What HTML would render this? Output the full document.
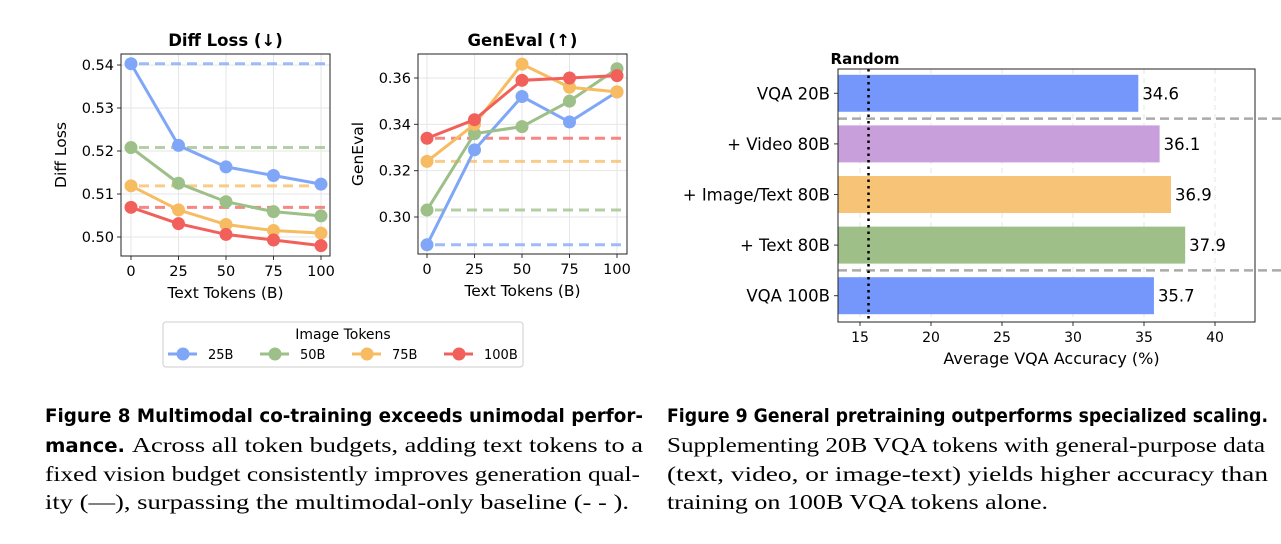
<!DOCTYPE html>
<html><head><meta charset="utf-8"><style>
body{margin:0;background:#fff;width:1281px;height:539px;overflow:hidden}
svg text{font-family:"DejaVu Sans","Liberation Sans",sans-serif}
svg text.ser{font-family:"Liberation Serif",serif}
</style></head><body>
<svg id="fig" width="1281" height="539" viewBox="0 0 1281 539" xmlns="http://www.w3.org/2000/svg">
<g id="p1"></g>
<g id="p2"></g>
<g id="p3"></g>
<g id="leg">
<rect x="163" y="322" width="360" height="45" rx="3" fill="#fff" stroke="#ccc"/>
<text x="343" y="339" font-size="14" text-anchor="middle">Image Tokens</text>
</g>
<g>
<text x="45" y="422" font-size="19" font-weight="bold" textLength="598" lengthAdjust="spacingAndGlyphs">Figure 8   Multimodal co-training exceeds unimodal perfor-</text>
<text x="45" y="452" font-size="19" font-weight="bold" textLength="80" lengthAdjust="spacingAndGlyphs">mance.</text>
<text x="132" y="452" font-size="21" class="ser" textLength="511" lengthAdjust="spacingAndGlyphs">Across all token budgets, adding text tokens to a</text>
<text x="45" y="481" font-size="21" class="ser" textLength="595" lengthAdjust="spacingAndGlyphs">fixed vision budget consistently improves generation qual-</text>
<text x="45" y="509" font-size="21" class="ser" textLength="584" lengthAdjust="spacingAndGlyphs">ity (—), surpassing the multimodal-only baseline (- - ).</text>
</g>
<g>
<text x="667" y="422" font-size="19" font-weight="bold" textLength="601" lengthAdjust="spacingAndGlyphs">Figure 9  General pretraining outperforms specialized scaling.</text>
<text x="667" y="452" font-size="21" class="ser" textLength="598" lengthAdjust="spacingAndGlyphs">Supplementing 20B VQA tokens with general-purpose data</text>
<text x="667" y="481" font-size="21" class="ser" textLength="601" lengthAdjust="spacingAndGlyphs">(text, video, or image-text) yields higher accuracy than</text>
<text x="667" y="509" font-size="21" class="ser" textLength="381" lengthAdjust="spacingAndGlyphs">training on 100B VQA tokens alone.</text>
</g>
</svg>
<script>
const xCats = [0, 25, 50, 75, 100];
const seriesNames = ["25B", "50B", "75B", "100B"];
const lossBlue = [0.5403, 0.5213, 0.5163, 0.5143, 0.5123];
const lossGreen = [0.5208, 0.5125, 0.5082, 0.5059, 0.5049];
const lossOrange = [0.5119, 0.5063, 0.5029, 0.5015, 0.5009];
const lossRed = [0.5069, 0.5031, 0.5006, 0.4993, 0.4980];
const lossTicks = [0.50, 0.51, 0.52, 0.53, 0.54];
const genBlue = [0.288, 0.329, 0.352, 0.341, 0.354];
const genGreen = [0.303, 0.336, 0.339, 0.350, 0.364];
const genOrange = [0.324, 0.340, 0.366, 0.356, 0.354];
const genRed = [0.334, 0.342, 0.359, 0.360, 0.361];
const genTicks = [0.30, 0.32, 0.34, 0.36];
const barLabels = ["VQA 20B", "+ Video 80B", "+ Image/Text 80B", "+ Text 80B", "VQA 100B"];
const barValues = [34.6, 36.1, 36.9, 37.9, 35.7];
const barTicks = [15, 20, 25, 30, 35, 40];
const randomBaseline = 15.6;

const NS = "http://www.w3.org/2000/svg";
const colors = ["#7fa6f7", "#9dbf88", "#f7bb62", "#f2605c"];
const barColors = ["#7597fb", "#c89fdb", "#f7c377", "#9fbf89", "#7597fb"];
function mk(parent, tag, attrs, txt){
  const e = document.createElementNS(NS, tag);
  for (const k in attrs) e.setAttribute(k, attrs[k]);
  if (txt !== undefined) e.textContent = txt;
  parent.appendChild(e); return e;
}

function linePlot(gid, box, xr, yr, ticks, dec, series, title, ylab){
  const g = document.getElementById(gid);
  const sx = v => box.x0p + (v - xr[0]) / (xr[1] - xr[0]) * (box.x1p - box.x0p);
  const sy = v => box.y0p + (v - yr[0]) / (yr[1] - yr[0]) * (box.y1p - box.y0p);
  xCats.forEach(c => {
    const l = mk(g, "line", {x1: sx(c), x2: sx(c), y1: box.t, y2: box.b, stroke: "#e6e6e6"});
    
    
    const tk = mk(g, "line", {x1: sx(c), x2: sx(c), y1: box.b, y2: box.b + 4, stroke: "#333"});
    
    
    const t = mk(g, "text", {x: sx(c), y: box.b + 20, "font-size": 14.5, "text-anchor": "middle"}, c);
    
    
  });
  ticks.forEach(v => {
    const l = mk(g, "line", {x1: box.l, x2: box.r, y1: sy(v), y2: sy(v), stroke: "#e6e6e6"});
    
    
    const tk = mk(g, "line", {x1: box.l - 4, x2: box.l, y1: sy(v), y2: sy(v), stroke: "#333"});
    
    
    const t = mk(g, "text", {x: box.l - 7, y: sy(v) + 5, "font-size": 14.5, "text-anchor": "end"}, v.toFixed(dec));
    
    
  });
  series.forEach((s, i) => {
    const d = mk(g, "line", {x1: sx(xCats[0]) + 8, x2: box.r, y1: sy(s[0]), y2: sy(s[0]), stroke: colors[i], "stroke-width": 3, "stroke-dasharray": "10,6", opacity: 0.75});
    
    
  });
  series.forEach((s, i) => {
    const p = mk(g, "polyline", {points: s.map((v, j) => sx(xCats[j]) + "," + sy(v)).join(" "), fill: "none", stroke: colors[i], "stroke-width": 3});
    
    
    s.forEach((v, j) => {
      const c = mk(g, "circle", {cx: sx(xCats[j]), cy: sy(v), r: 6.5, fill: colors[i]});
      
      
    });
  });
  const fr = mk(g, "rect", {x: box.l, y: box.t, width: box.r - box.l, height: box.b - box.t, fill: "none", stroke: "#222", "stroke-width": 1});
  
  
  const tt = mk(g, "text", {x: (box.l + box.r) / 2, y: box.t - 8, "font-size": 16.5, "font-weight": "bold", "text-anchor": "middle"}, title);
  
  
  const xl = mk(g, "text", {x: (box.l + box.r) / 2, y: box.b + 42, "font-size": 15.5, "text-anchor": "middle"}, "Text Tokens (B)");
  
  
  const cx = box.l - 55, cy = (box.t + box.b) / 2;
  const yl = mk(g, "text", {x: cx, y: cy, "font-size": 15.5, "text-anchor": "middle", transform: "rotate(-90 " + cx + " " + cy + ")"}, ylab);
  
  
}
linePlot("p1", {l:121, r:330, t:54, b:256, x0p:131, x1p:321, y0p:237, y1p:65}, [0,100], [0.50,0.54], lossTicks, 2,
  [lossBlue, lossGreen, lossOrange, lossRed], "Diff Loss (↓)", "Diff Loss");
linePlot("p2", {l:418, r:627, t:54, b:254, x0p:427, x1p:617, y0p:217, y1p:78}, [0,100], [0.30,0.36], genTicks, 2,
  [genBlue, genGreen, genOrange, genRed], "GenEval (↑)", "GenEval");

const leg = document.getElementById("leg");
seriesNames.forEach((n, i) => {
  const x = 168 + i * 92;
  const l = mk(leg, "line", {x1: x, x2: x + 29, y1: 354, y2: 354, stroke: colors[i], "stroke-width": 3});
  
  
  const c = mk(leg, "circle", {cx: x + 15, cy: 354, r: 6.5, fill: colors[i]});
  
  
  const t = mk(leg, "text", {x: x + 40, y: 359, "font-size": 13}, n);
  
  
});

(function(){
  const g = document.getElementById("p3");
  const L = 838, R = 1255, T = 69, B = 322;
  const sx = v => 860 + (v - 15) * 14.2;
  const bandH = (B - T) / barLabels.length;
  barTicks.forEach(v => {
    const l = mk(g, "line", {x1: sx(v), x2: sx(v), y1: T, y2: B, stroke: "#e4e4e4", "stroke-dasharray": "5,4"});
    
    
    const tk = mk(g, "line", {x1: sx(v), x2: sx(v), y1: B, y2: B + 4, stroke: "#333"});
    
    
    const t = mk(g, "text", {x: sx(v), y: B + 20, "font-size": 14, "text-anchor": "middle"}, v);
    
    
  });
  barLabels.forEach((lab, i) => {
    const cy = T + bandH * (i + 0.5) - 1;
    const r = mk(g, "rect", {x: L, y: cy - 18.5, width: sx(barValues[i]) - L, height: 37, fill: barColors[i]});
    
    
    const v = mk(g, "text", {x: sx(barValues[i]) + 4, y: cy + 6, "font-size": 16.5}, barValues[i].toFixed(1));
    
    
    const tk = mk(g, "line", {x1: L - 4, x2: L, y1: cy, y2: cy, stroke: "#333"});
    
    
    const t = mk(g, "text", {x: L - 8, y: cy + 6, "font-size": 16.5, "text-anchor": "end"}, lab);
    
    
  });
  [1, 4].forEach(k => {
    const y = T + bandH * k - 1;
    const l = mk(g, "line", {x1: L, x2: 1281, y1: y, y2: y, stroke: "#aaa", "stroke-width": 2.5, "stroke-dasharray": "9,5"});
    
    
  });
  const rl = mk(g, "line", {x1: sx(randomBaseline), x2: sx(randomBaseline), y1: T, y2: B, stroke: "#000", "stroke-width": 2.5, "stroke-dasharray": "2.5,4"});
  
  
  const rt = mk(g, "text", {x: sx(randomBaseline) - 38, y: T - 5, "font-size": 15, "font-weight": "bold"}, "Random");
  
  
  const fr = mk(g, "rect", {x: L, y: T, width: R - L, height: B - T, fill: "none", stroke: "#222"});
  
  
  const xl = mk(g, "text", {x: (L + R) / 2 + 5, y: B + 42, "font-size": 16, "text-anchor": "middle"}, "Average VQA Accuracy (%)");
  
  
})();
</script>
</body></html>
